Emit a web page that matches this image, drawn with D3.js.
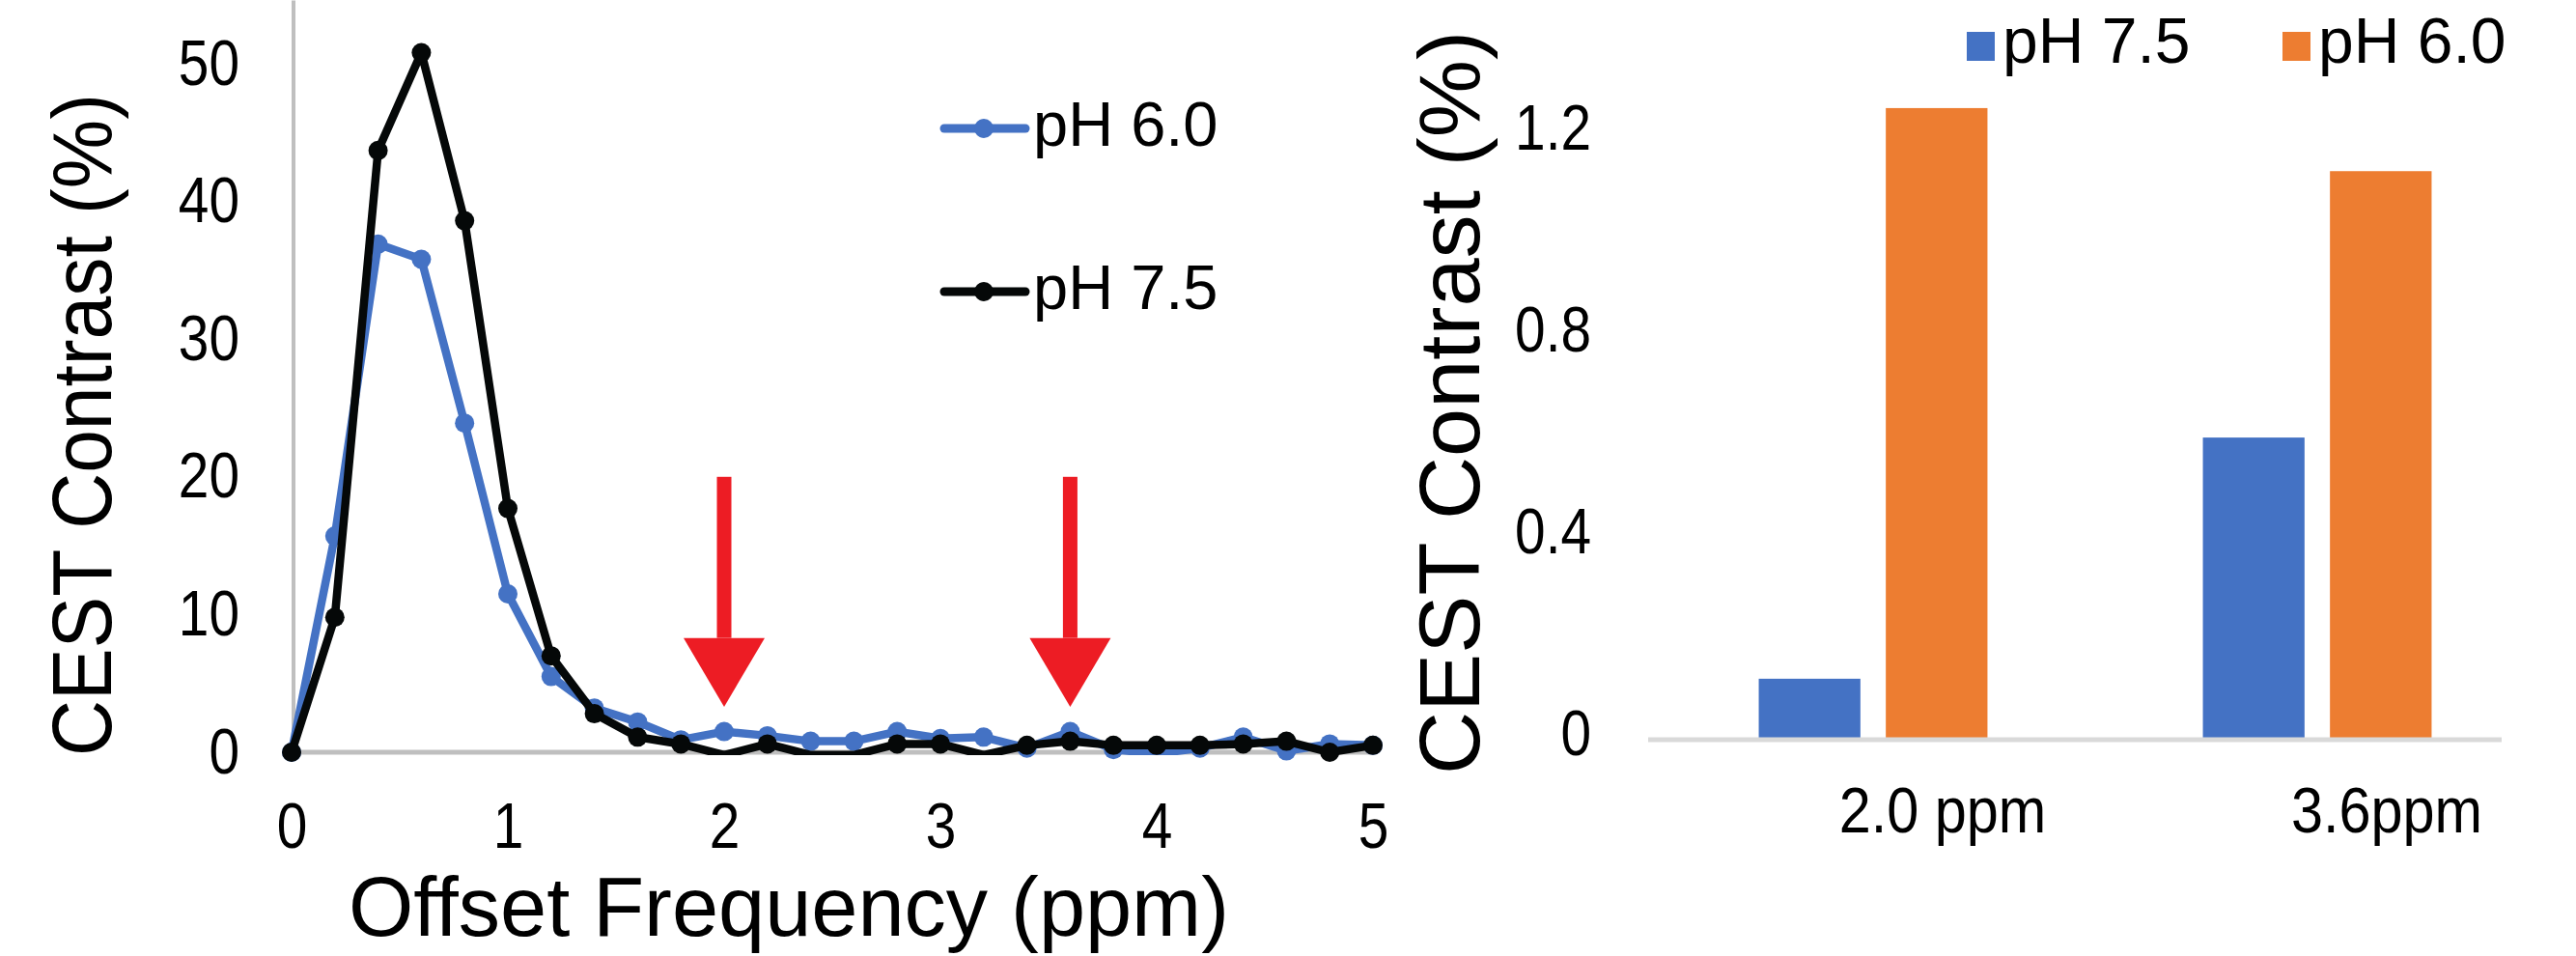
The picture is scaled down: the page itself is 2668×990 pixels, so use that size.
<!DOCTYPE html>
<html>
<head>
<meta charset="utf-8">
<script src="https://cdn.jsdelivr.net/npm/d3@7"></script>
<style>
  body { margin: 0; background: #fff; }
  svg { display: block; }
  text { font-family: "Liberation Sans", Arial, sans-serif; fill: #000; }
</style>
</head>
<body>
<svg width="2668" height="990"></svg>
<script>
// **** data ****
var offsets = [0, 0.2, 0.4, 0.6, 0.8, 1.0, 1.2, 1.4, 1.6, 1.8, 2.0, 2.2, 2.4, 2.6, 2.8,
  3.0, 3.2, 3.4, 3.6, 3.8, 4.0, 4.2, 4.4, 4.6, 4.8, 5.0];
var ph60 = [0, 15.7, 36.9, 35.8, 23.9, 11.5, 5.5, 3.2, 2.2, 0.9, 1.5, 1.2, 0.8, 0.8, 1.5,
  1.0, 1.1, 0.3, 1.5, 0.2, -0.1, 0.3, 1.1, 0.1, 0.6, 0.5];
var ph75 = [0, 9.8, 43.7, 50.8, 38.6, 17.7, 7.0, 2.8, 1.1, 0.6, -0.2, 0.6, -0.2, -0.2, 0.6,
  0.6, -0.2, 0.5, 0.8, 0.5, 0.5, 0.5, 0.6, 0.8, 0.0, 0.5];
var lineTicksY = [0, 10, 20, 30, 40, 50];
var lineTicksX = [0, 1, 2, 3, 4, 5];
var arrowAt = [2.0, 3.6];

var barCats = ['2.0 ppm', '3.6ppm'];
var barSeries = ['pH 7.5', 'pH 6.0'];
var bar75 = [0.117, 0.595];
var bar60 = [1.248, 1.123];
var barTicksY = [0, 0.4, 0.8, 1.2];

var blue = '#4472C4', orange = '#ED7D31', red = '#ED1C24', black = '#050808';

var svg = d3.select('svg');

// labels in the source are a bit condensed
function narrow(sel, k) {
  sel.each(function() {
    var w = this.getComputedTextLength();
    d3.select(this).attr('textLength', w * k).attr('lengthAdjust', 'spacingAndGlyphs');
  });
}

// **** left chart: line plot ****
var xL = d3.scaleLinear().domain([0, 5]).range([302, 1422]);
var yL = d3.scaleLinear().domain([0, 50]).range([779, 66]);

// lines are cut at the zero line, like the plot area
svg.append('clipPath').attr('id', 'plotClip')
  .append('rect')
  .attr('x', 0).attr('y', 0)
  .attr('width', 1500).attr('height', yL(0) + 3);

svg.append('line')
  .attr('x1', xL(0) + 2).attr('x2', xL(0) + 2)
  .attr('y1', yL(0)).attr('y2', yL(54.6))
  .attr('stroke', '#BFBFBF').attr('stroke-width', 4);
svg.append('line')
  .attr('x1', xL(0)).attr('x2', xL(5))
  .attr('y1', yL(0)).attr('y2', yL(0))
  .attr('stroke', '#BFBFBF').attr('stroke-width', 5);

var gy = svg.append('g').attr('transform', 'translate(' + xL(0) + ',0)')
  .call(d3.axisLeft(yL).tickValues(lineTicksY).tickSize(0).tickPadding(54));
var gx = svg.append('g').attr('transform', 'translate(0,' + yL(0) + ')')
  .call(d3.axisBottom(xL).tickValues(lineTicksX).tickSize(0).tickPadding(52)
    .tickFormat(d3.format('d')));
[gy, gx].forEach(function(g) {
  g.select('.domain').remove();
  g.selectAll('text').style('font-size', '66px').attr('fill', '#000')
    .style('font-family', '"Liberation Sans", Arial, sans-serif')
    .call(narrow, 0.86);
});

// arrows
arrowAt.forEach(function(a) {
  var cx = xL(a);
  svg.append('rect')
    .attr('x', cx - 7.5).attr('y', yL(20))
    .attr('width', 15).attr('height', yL(8.3) - yL(20))
    .attr('fill', red);
  svg.append('path')
    .attr('d', 'M' + (cx - 42) + ',' + yL(8.3) + 'L' + (cx + 42) + ',' + yL(8.3) + 'L' + cx + ',' + yL(3.3) + 'Z')
    .attr('fill', red);
});

function drawSeries(vals, color) {
  var pts = offsets.map(function(o, i) { return { x: o, v: vals[i] }; });
  svg.append('path').datum(pts)
    .attr('clip-path', 'url(#plotClip)')
    .attr('d', d3.line().x(function(d) { return xL(d.x); }).y(function(d) { return yL(d.v); }))
    .attr('fill', 'none').attr('stroke', color)
    .attr('stroke-width', 8.5).attr('stroke-linejoin', 'round');
  svg.append('g').selectAll('circle')
    .data(pts.filter(function(d) { return d.v >= 0; }))
    .enter().append('circle')
    .attr('cx', function(d) { return xL(d.x); })
    .attr('cy', function(d) { return yL(d.v); })
    .attr('r', 10).attr('fill', color);
}
drawSeries(ph60, blue);
drawSeries(ph75, black);

// legend (left)
var legL = [{ name: 'pH 6.0', color: blue }, { name: 'pH 7.5', color: black }];
legL.forEach(function(d, i) {
  var ly = 133 + i * 169;
  svg.append('line').attr('x1', 978).attr('x2', 1062).attr('y1', ly).attr('y2', ly)
    .attr('stroke', d.color).attr('stroke-width', 9).attr('stroke-linecap', 'round');
  svg.append('circle').attr('cx', 1019).attr('cy', ly).attr('r', 10).attr('fill', d.color);
  svg.append('text').attr('x', 1070).attr('y', ly + 18)
    .style('font-size', '65px').text(d.name);
});

svg.append('text')
  .attr('transform', 'translate(115,440) rotate(-90)')
  .attr('text-anchor', 'middle')
  .attr('textLength', 686).attr('lengthAdjust', 'spacingAndGlyphs')
  .style('font-size', '88px')
  .text('CEST Contrast (%)');

svg.append('text')
  .attr('x', 817).attr('y', 969)
  .attr('text-anchor', 'middle')
  .attr('textLength', 912).attr('lengthAdjust', 'spacingAndGlyphs')
  .style('font-size', '88px')
  .text('Offset Frequency (ppm)');

// **** right chart: bars ****
var yR = d3.scaleLinear().domain([0, 1.2]).range([764, 137]);
var x0 = d3.scaleBand().domain(barCats).range([1710, 2630]).paddingInner(0.485).paddingOuter(0.2425);
var x1 = d3.scaleBand().domain(barSeries).range([0, x0.bandwidth()]).paddingInner(0.2).paddingOuter(0);
var barColor = d3.scaleOrdinal().domain(barSeries).range([blue, orange]);

var barRows = barCats.map(function(c, i) {
  return { cat: c, vals: [{ s: 'pH 7.5', v: bar75[i] }, { s: 'pH 6.0', v: bar60[i] }] };
});

svg.append('g').selectAll('g').data(barRows).enter().append('g')
  .attr('transform', function(d) { return 'translate(' + x0(d.cat) + ',0)'; })
  .selectAll('rect').data(function(d) { return d.vals; }).enter().append('rect')
  .attr('x', function(d) { return x1(d.s); })
  .attr('y', function(d) { return yR(d.v); })
  .attr('width', x1.bandwidth())
  .attr('height', function(d) { return yR(0) - yR(d.v); })
  .attr('fill', function(d) { return barColor(d.s); });

svg.append('line')
  .attr('x1', 1707).attr('x2', 2591)
  .attr('y1', yR(0) + 2).attr('y2', yR(0) + 2)
  .attr('stroke', '#D9D9D9').attr('stroke-width', 5);

var gyR = svg.append('g').attr('transform', 'translate(1707,-4)')
  .call(d3.axisLeft(yR).tickValues(barTicksY).tickSize(0).tickPadding(59)
    .tickFormat(function(d) { return d === 0 ? '0' : d3.format('.1f')(d); }));
gyR.select('.domain').remove();
gyR.selectAll('text').style('font-size', '66px').attr('fill', '#000')
  .style('font-family', '"Liberation Sans", Arial, sans-serif')
  .call(narrow, 0.86);

svg.append('g').selectAll('text').data(barCats).enter().append('text')
  .attr('x', function(d) { return x0(d) + x0.bandwidth() / 2 + 72; })
  .attr('y', 862)
  .attr('text-anchor', 'middle')
  .style('font-size', '66px')
  .text(function(d) { return d; })
  .call(narrow, 0.9);

svg.append('text')
  .attr('transform', 'translate(1532,417) rotate(-90)')
  .attr('text-anchor', 'middle')
  .attr('textLength', 770).attr('lengthAdjust', 'spacingAndGlyphs')
  .style('font-size', '89px')
  .text('CEST Contrast (%)');

// legend (right)
barSeries.forEach(function(s, i) {
  var lx = 2037 + i * 327;
  svg.append('rect').attr('x', lx).attr('y', 33).attr('width', 29).attr('height', 30)
    .attr('fill', barColor(s));
  svg.append('text').attr('x', lx + 37).attr('y', 65)
    .style('font-size', '66px').text(s);
});
</script>
</body>
</html>
